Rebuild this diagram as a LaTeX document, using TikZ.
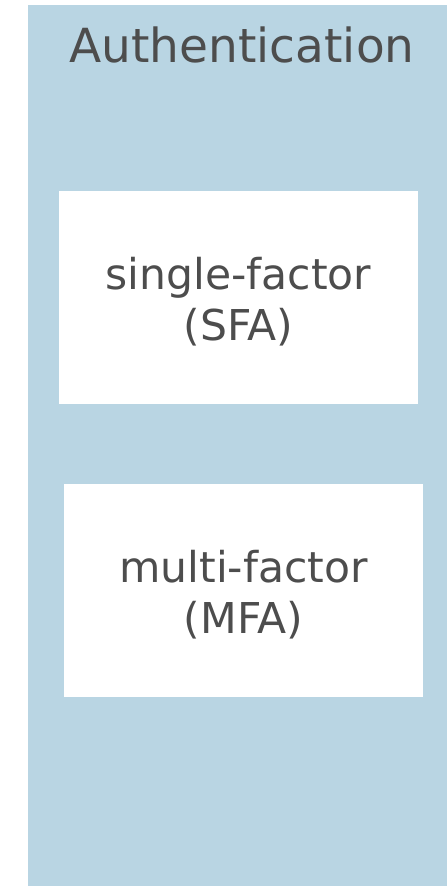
\documentclass[tikz,border=0pt]{standalone}
\usepackage{fontspec}
\setmainfont{DejaVu Sans}
\definecolor{bgblue}{HTML}{B9D5E3}
\definecolor{txt}{HTML}{4D4D4D}
\begin{document}
\begin{tikzpicture}[x=1pt,y=1pt,
  box/.style={fill=white,draw=none,inner sep=0pt,minimum width=359pt,minimum height=213pt},
  boxtext/.style={align=center,text=txt,inner sep=0pt,font=\fontsize{42.5}{50.5}\selectfont}]
\useasboundingbox (0,0) rectangle (447,886);
\fill[bgblue] (28,0) rectangle (447,881);
\node[text=txt,font=\fontsize{47}{56}\selectfont,anchor=base] (title) at (242,823) {Authentication};
\node[box] (sfa) at (238.5,588.5) {};
\node[boxtext] (sfat) at ([yshift=-4pt]sfa.center) {single-factor\\(SFA)};
\node[box] (mfa) at (243.5,295.5) {};
\node[boxtext] (mfat) at ([yshift=-4pt]mfa.center) {multi-factor\\(MFA)};
\end{tikzpicture}
\end{document}
